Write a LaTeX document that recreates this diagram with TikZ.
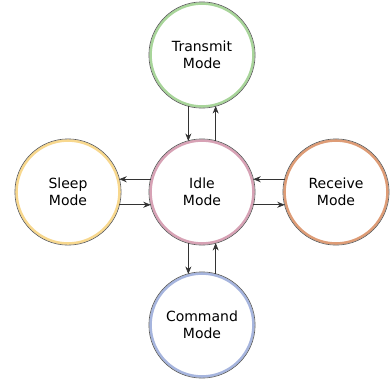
\documentclass[tikz,border=0pt]{standalone}
\usepackage{fontspec}
\setmainfont{DejaVu Sans}
\usetikzlibrary{arrows.meta}

\definecolor{txgreen}{HTML}{A8D59A}
\definecolor{slyellow}{HTML}{F8D88E}
\definecolor{idpink}{HTML}{D7A2B5}
\definecolor{rxorange}{HTML}{DE9C76}
\definecolor{cmblue}{HTML}{A6B5DE}

\begin{document}
\begin{tikzpicture}[x=1pt,y=-1pt,
    mode/.style={circle, minimum size=103pt, inner sep=0pt, line width=2.6pt,
      fill=white, align=center, font=\fontsize{14}{17.5}\selectfont},
    rim/.style={draw=black!65, line width=0.6pt},
    link/.style={draw=black!80, line width=0.6pt,
      -{Stealth[length=7.5pt,width=6pt]}}]
    % Fix the picture size
    \useasboundingbox (0,0) rectangle (391,381);
    
    % The five modes
    \node[mode, draw=txgreen] (tx) at (202,55) {Transmit\\Mode};
    \node[mode, draw=idpink] (idle) at (202,192) {Idle\\Mode};
    \node[mode, draw=cmblue] (cmd) at (202,325) {Command\\Mode};
    \node[mode, draw=slyellow] (sleep) at (68,192) {Sleep\\Mode};
    \node[mode, draw=rxorange] (rx) at (336,192) {Receive\\Mode};
    
    % Dark outer rims
    \foreach \n in {tx,idle,cmd,sleep,rx}
        \draw[rim] (\n.center) circle (53.1pt);
    
    % Transitions
    \draw[link] (tx.255) -- (idle.105);
    \draw[link] (idle.75) -- (tx.285);
    \draw[link] (idle.255) -- (cmd.105);
    \draw[link] (cmd.75) -- (idle.285);
    \draw[link] (idle.166) -- (sleep.14);
    \draw[link] (sleep.-14) -- (idle.194);
    \draw[link] (rx.166) -- (idle.14);
    \draw[link] (idle.-14) -- (rx.194);
    
\end{tikzpicture}
\end{document}
